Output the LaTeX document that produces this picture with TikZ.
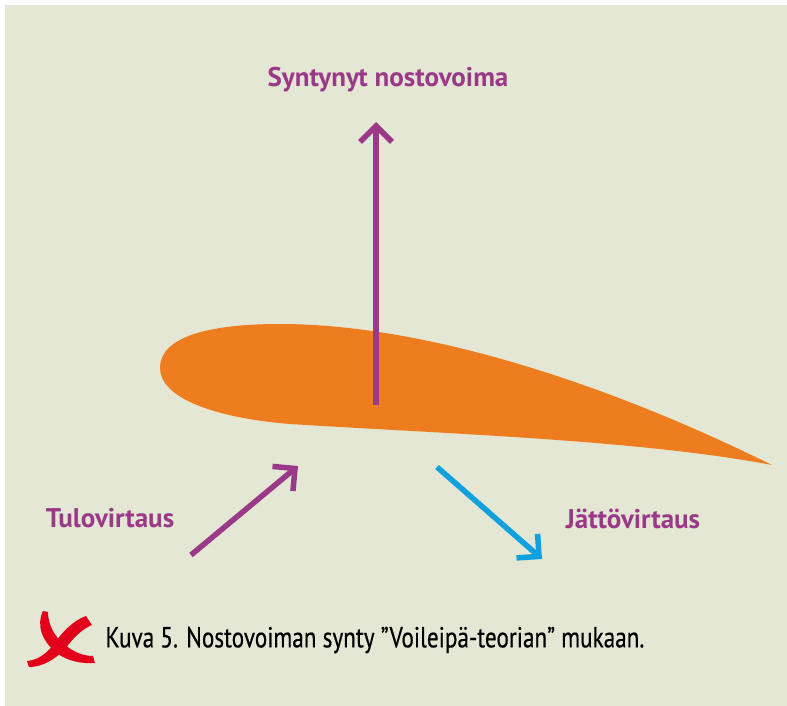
\documentclass[tikz,border=0pt]{standalone}
\usepackage{fontspec}
\setmainfont{PT Sans}
\newfontfamily\capfont[FakeStretch=0.8, FakeBold=0.4]{PT Sans}
\usetikzlibrary{arrows.meta}

\definecolor{paper}{RGB}{228,231,211}
\definecolor{wing}{RGB}{237,125,31}
\definecolor{violet}{RGB}{155,57,137}
\definecolor{flowblue}{RGB}{16,160,222}
\definecolor{crossred}{RGB}{226,0,26}

\begin{document}
\begin{tikzpicture}[x=1pt, y=-1pt,
  flow/.style={line width=5.5pt, -{Straight Barb[length=16pt, width=32pt]}},
  label/.style={text=violet, font=\fontsize{27}{31}\selectfont\bfseries}]

\fill [white] (0,0) rectangle (787,706);
\fill [paper] (5,5) rectangle (787,706);
\useasboundingbox (0,0) rectangle (787,706);

% wing section, trailing edge first
\fill [wing] (772,465) .. controls (600,380) and (420,324) .. (280,324)
  .. controls (205,324) and (160,338) .. (160,368)
  .. controls (160,398) and (215,418) .. (290,424)
  .. controls (450,434) and (640,440) .. (772,465) -- cycle;

\coordinate (liftfoot) at (376,405);
\coordinate (lifttip) at (376,122);
\coordinate (infoot) at (191,555);
\coordinate (intip) at (298,466);
\coordinate (outfoot) at (437,467);
\coordinate (outtip) at (542,559);

\draw [flow, violet] (liftfoot) -- (lifttip);
\draw [flow, violet] (infoot) -- (intip);
\draw [flow, flowblue] (outfoot) -- (outtip);

\node [label] (lift) at (388,80) {Syntynyt nostovoima};
\node [label] (inflow) at (110,518) {Tulovirtaus};
\node [label] (outflow) at (633,519) {Jättövirtaus};

% brush-stroke cross
\fill [crossred] (43,611) .. controls (36,625) and (42,642) .. (58,654) .. controls (68,661) and (82,664) .. (95,663) -- (93,656) .. controls (82,656) and (72,651) .. (64,644) .. controls (54,636) and (48,624) .. (48,612) -- cycle;
\fill [crossred] (86,616) .. controls (74,620) and (62,632) .. (54,644) .. controls (46,654) and (38,660) .. (27,661) -- (29,667) .. controls (42,667) and (54,660) .. (64,650) .. controls (72,640) and (80,630) .. (92,625) -- cycle;

\node [anchor=west, font=\capfont\fontsize{29}{33}\selectfont] (caption) at (102,640) {Kuva 5. Nostovoiman synty ”Voileipä-teorian” mukaan.};

\end{tikzpicture}
\end{document}
